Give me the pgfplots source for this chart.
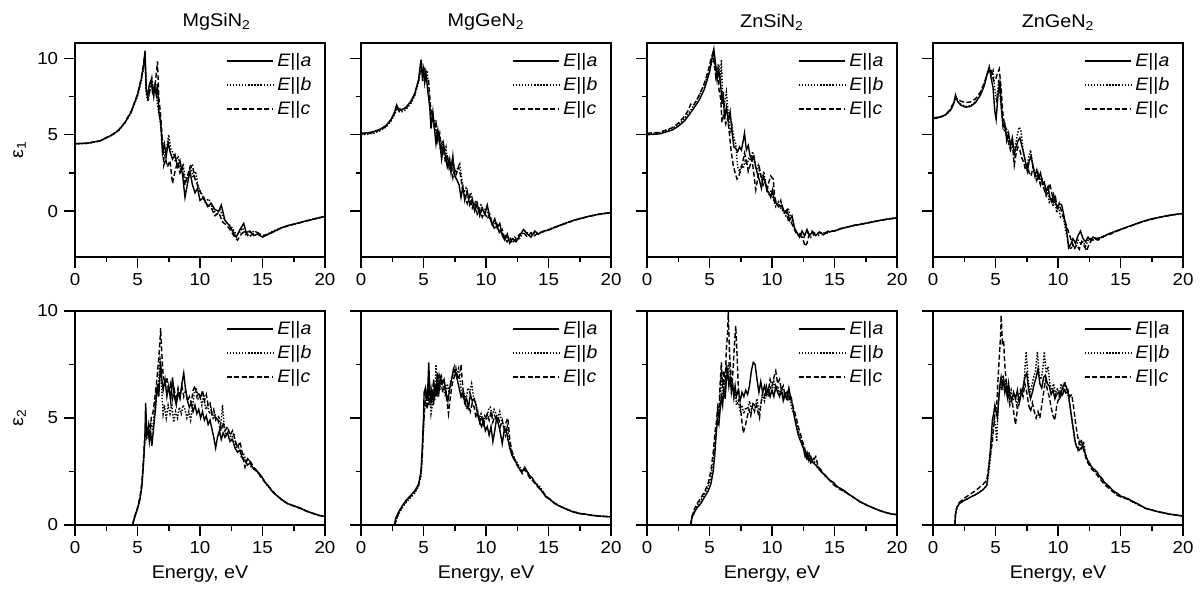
\documentclass[border=0pt]{standalone}
\usepackage{fontspec}
\setmainfont{Liberation Sans}[FakeStretch=1.08]
\usepackage{pgfplots}
\pgfplotsset{compat=1.18}
\usepgfplotslibrary{groupplots}

\pgfplotsset{
  panel/.style={
    scale only axis, width=150pt, height=128.4pt,
    xmin=0, xmax=20, xtick={0,5,10,15,20}, minor x tick num=1,
    tick align=outside, xtick pos=left, ytick pos=left,
    major tick length=6.6pt, minor tick length=3.3pt,
    tick style={black, line width=0.9pt},
    axis line style={line width=1.2pt},
    tick label style={font=\fontsize{10.4}{12}\selectfont},
    /pgf/number format/assume math mode=true,
    label style={font=\fontsize{11}{13}\selectfont},
    title style={font=\fontsize{11}{13}\selectfont, yshift=-2pt},
    legend style={at={(1,1)}, anchor=north east, xshift=-3pt, yshift=-2pt,
      draw=none, fill=none, font=\fontsize{10.8}{12}\selectfont, row sep=1pt},
    legend cell align=left,
    legend image code/.code={\draw[#1] (0pt,0pt) -- (28pt,0pt);},
  },
  top/.style={ymin=-3, ymax=11, ytick={0,5,10}, minor y tick num=1},
  bot/.style={ymin=0, ymax=10, ytick={0,5,10}, minor y tick num=1, xlabel={Energy, eV}},
  la/.style={black, line width=0.85pt},
  lb/.style={black, line width=0.85pt, densely dotted},
  lc/.style={black, line width=0.85pt, dash pattern=on 3pt off 1.5pt},
}
\newcommand{\leg}{\legend{\textit{E}||\textit{a}, \textit{E}||\textit{b}, \textit{E}||\textit{c}}}

\begin{document}
\begin{tikzpicture}
\begin{groupplot}[
  group style={group size=4 by 2, horizontal sep=21.6pt, vertical sep=32.4pt,
    yticklabels at=edge left},
  panel,
]
% ---------- row 1: eps1 ----------
\nextgroupplot[top, title={MgSiN\textsubscript{2}}, title style={xshift=10pt}, ylabel={ε\textsubscript{1}}]
\addplot[la] coordinates {(0,4.42)(1,4.45)(2,4.6)(3,5.0)(3.5,5.3)(4,5.8)(4.5,6.5)(5,7.6)(5.3,8.6)(5.5,9.6)(5.6,10.5)(5.7,8.0)(5.8,7.5)(5.95,8.3)(6.1,8.6)(6.2,7.8)(6.35,8.2)(6.5,7.6)(6.6,8.3)(6.7,6.6)(6.85,5.8)(7.0,3.8)(7.15,4.4)(7.3,3.6)(7.45,4.5)(7.6,3.9)(7.8,3.4)(8.0,3.7)(8.2,2.9)(8.4,3.3)(8.6,2.4)(8.8,0.9)(9.0,1.8)(9.2,2.6)(9.4,1.7)(9.6,1.2)(9.8,1.5)(10.0,0.7)(10.3,0.9)(10.6,0.3)(10.9,0.5)(11.2,0.1)(11.5,0.0)(11.7,0.4)(12.0,-0.6)(12.3,-0.9)(12.6,-1.3)(12.9,-1.7)(13.2,-1.2)(13.5,-0.8)(13.7,-1.4)(14.0,-1.3)(14.3,-1.6)(14.6,-1.5)(15.0,-1.7)(15.5,-1.5)(16,-1.3)(16.5,-1.1)(17,-0.95)(17.5,-0.85)(18,-0.75)(18.5,-0.65)(19,-0.55)(19.5,-0.45)(20,-0.35)};
\addplot[lb] coordinates {(0,4.4)(1,4.43)(2,4.58)(3,4.98)(3.5,5.28)(4,5.78)(4.5,6.45)(5,7.5)(5.3,8.5)(5.5,9.4)(5.6,10.2)(5.7,7.6)(5.85,7.2)(6.0,8.0)(6.15,8.7)(6.3,7.6)(6.45,8.4)(6.6,7.0)(6.75,6.2)(6.9,5.4)(7.05,4.2)(7.2,3.5)(7.35,4.2)(7.5,5.0)(7.65,4.1)(7.85,3.8)(8.05,3.2)(8.25,3.6)(8.45,2.7)(8.65,3.0)(8.85,2.0)(9.05,2.3)(9.25,3.0)(9.45,2.2)(9.65,2.6)(9.85,1.6)(10.1,1.2)(10.4,0.6)(10.7,0.8)(11.0,0.2)(11.3,-0.2)(11.6,0.1)(11.9,-0.5)(12.2,-0.8)(12.5,-1.0)(12.8,-1.4)(13.1,-1.5)(13.4,-1.1)(13.7,-1.6)(14.0,-1.4)(14.4,-1.3)(14.8,-1.6)(15.2,-1.6)(15.6,-1.4)(16,-1.25)(16.5,-1.1)(17,-0.95)(17.5,-0.85)(18,-0.75)(18.5,-0.62)(19,-0.52)(19.5,-0.42)(20,-0.32)};
\addplot[lc] coordinates {(0,4.4)(1,4.44)(2,4.6)(3,5.02)(3.5,5.32)(4,5.82)(4.5,6.55)(5,7.65)(5.3,8.7)(5.5,9.7)(5.6,10.4)(5.7,7.9)(5.85,7.4)(6.0,7.9)(6.15,8.4)(6.3,7.5)(6.45,8.6)(6.6,9.8)(6.7,7.5)(6.85,6.3)(7.0,4.5)(7.1,3.0)(7.25,3.4)(7.4,2.9)(7.6,3.3)(7.8,1.8)(8.0,2.6)(8.2,3.2)(8.4,2.5)(8.6,2.9)(8.8,1.7)(9.0,2.3)(9.2,2.9)(9.4,3.0)(9.6,2.1)(9.8,1.7)(10.0,1.3)(10.3,0.8)(10.6,0.4)(10.9,0.2)(11.2,-0.3)(11.5,-0.1)(11.8,-0.7)(12.1,-0.9)(12.4,-1.2)(12.7,-1.6)(13.0,-1.9)(13.3,-1.5)(13.6,-1.3)(13.9,-1.7)(14.2,-1.5)(14.6,-1.4)(15.0,-1.6)(15.5,-1.5)(16,-1.3)(16.5,-1.1)(17,-0.98)(17.5,-0.86)(18,-0.76)(18.5,-0.64)(19,-0.54)(19.5,-0.44)(20,-0.34)};
\leg

\nextgroupplot[top, title={MgGeN\textsubscript{2}}]
\addplot[la] coordinates {(0,5.1)(0.5,5.12)(1,5.2)(1.5,5.35)(2,5.6)(2.4,6.0)(2.7,6.5)(2.85,6.95)(3.0,6.7)(3.3,6.65)(3.6,6.8)(4.0,7.2)(4.3,7.7)(4.6,8.6)(4.8,9.9)(4.9,8.8)(5.0,9.3)(5.1,8.4)(5.2,9.0)(5.35,7.8)(5.5,6.8)(5.6,5.4)(5.75,6.5)(5.9,5.2)(6.0,4.4)(6.15,5.3)(6.3,4.5)(6.45,3.4)(6.6,4.4)(6.75,3.6)(6.9,2.9)(7.05,3.4)(7.2,2.5)(7.35,3.6)(7.5,2.3)(7.7,2.0)(7.85,1.7)(8.0,0.9)(8.15,1.6)(8.3,0.7)(8.5,1.3)(8.7,0.4)(8.9,0.8)(9.1,0.0)(9.3,0.5)(9.5,-0.3)(9.7,0.2)(9.9,-0.2)(10.1,0.4)(10.3,-0.4)(10.5,-0.9)(10.7,-0.5)(10.9,-1.1)(11.1,-0.8)(11.3,-1.6)(11.5,-1.9)(11.7,-1.5)(11.9,-2.1)(12.1,-1.8)(12.4,-2.0)(12.7,-1.6)(13.0,-1.2)(13.3,-1.5)(13.6,-1.7)(13.9,-1.3)(14.2,-1.5)(14.6,-1.3)(15,-1.25)(15.5,-1.05)(16,-0.9)(16.5,-0.75)(17,-0.6)(17.5,-0.5)(18,-0.38)(18.5,-0.3)(19,-0.2)(19.5,-0.15)(20,-0.1)};
\addplot[lb] coordinates {(0,5.0)(0.5,5.02)(1,5.1)(1.5,5.25)(2,5.5)(2.4,5.9)(2.7,6.35)(2.9,6.75)(3.05,6.5)(3.3,6.5)(3.6,6.65)(4.0,7.05)(4.3,7.55)(4.6,8.4)(4.85,9.6)(4.95,8.5)(5.05,9.0)(5.15,8.9)(5.3,9.2)(5.45,7.5)(5.6,6.2)(5.75,5.8)(5.9,6.0)(6.05,4.8)(6.2,5.0)(6.35,4.0)(6.5,4.6)(6.65,3.8)(6.8,4.2)(6.95,3.0)(7.1,3.4)(7.25,2.7)(7.4,3.1)(7.6,2.4)(7.75,2.9)(7.9,3.1)(8.05,2.2)(8.2,1.2)(8.4,1.5)(8.6,0.8)(8.8,1.2)(9.0,0.3)(9.2,0.7)(9.4,0.0)(9.6,0.4)(9.8,0.0)(10.0,0.2)(10.2,-0.3)(10.4,-0.6)(10.6,-1.0)(10.8,-0.7)(11.0,-1.3)(11.2,-1.2)(11.4,-1.7)(11.6,-1.6)(11.8,-1.9)(12.0,-2.0)(12.3,-1.7)(12.6,-1.9)(12.9,-1.5)(13.2,-1.3)(13.5,-1.6)(13.8,-1.4)(14.1,-1.5)(14.5,-1.35)(15,-1.2)(15.5,-1.05)(16,-0.9)(16.5,-0.75)(17,-0.6)(17.5,-0.48)(18,-0.38)(18.5,-0.28)(19,-0.2)(19.5,-0.14)(20,-0.08)};
\addplot[lc] coordinates {(0,5.05)(0.5,5.07)(1,5.15)(1.5,5.3)(2,5.55)(2.4,5.95)(2.7,6.45)(2.85,6.85)(3.0,6.6)(3.3,6.6)(3.6,6.75)(4.0,7.15)(4.3,7.65)(4.6,8.5)(4.8,9.5)(4.95,9.0)(5.1,9.3)(5.25,8.5)(5.4,8.6)(5.55,7.0)(5.7,6.0)(5.85,5.5)(6.0,5.8)(6.15,4.6)(6.3,5.1)(6.45,3.9)(6.6,4.2)(6.75,3.2)(6.9,3.7)(7.05,2.8)(7.2,3.2)(7.35,2.2)(7.5,2.8)(7.65,2.5)(7.8,2.9)(7.95,2.4)(8.1,1.5)(8.3,1.0)(8.5,0.5)(8.7,1.0)(8.9,0.2)(9.1,0.6)(9.3,-0.2)(9.5,0.1)(9.7,-0.4)(9.9,-0.1)(10.1,-0.5)(10.3,-0.2)(10.5,-0.8)(10.7,-1.2)(10.9,-0.9)(11.1,-1.5)(11.3,-1.2)(11.5,-1.8)(11.7,-2.0)(11.9,-1.7)(12.1,-2.1)(12.4,-1.8)(12.7,-1.5)(13.0,-1.4)(13.3,-1.7)(13.6,-1.4)(13.9,-1.6)(14.2,-1.4)(14.6,-1.35)(15,-1.22)(15.5,-1.07)(16,-0.92)(16.5,-0.77)(17,-0.62)(17.5,-0.5)(18,-0.4)(18.5,-0.3)(19,-0.22)(19.5,-0.16)(20,-0.1)};
\leg

\nextgroupplot[top, title={ZnSiN\textsubscript{2}}]
\addplot[la] coordinates {(0,5.0)(1,5.05)(2,5.3)(2.5,5.55)(3,5.9)(3.5,6.45)(3.8,6.8)(4.2,7.3)(4.6,8.0)(5.0,9.1)(5.2,10.0)(5.35,10.6)(5.5,9.5)(5.6,8.6)(5.75,9.2)(5.9,8.2)(6.0,7.0)(6.1,7.8)(6.2,6.0)(6.35,6.8)(6.5,5.9)(6.65,6.5)(6.8,5.2)(6.95,4.2)(7.1,4.1)(7.25,3.9)(7.4,4.2)(7.55,4.0)(7.7,4.6)(7.8,5.1)(7.95,4.0)(8.1,4.3)(8.25,3.6)(8.4,3.4)(8.55,3.6)(8.7,2.9)(8.85,2.4)(9.0,2.0)(9.15,1.5)(9.3,2.3)(9.45,1.9)(9.6,1.3)(9.75,1.2)(9.9,0.9)(10.05,1.4)(10.2,0.6)(10.4,0.5)(10.6,0.3)(10.8,0.4)(11.0,-0.1)(11.2,0.1)(11.4,-0.6)(11.6,-0.3)(11.8,-1.1)(12.0,-1.4)(12.2,-1.7)(12.4,-1.3)(12.6,-1.6)(12.8,-1.2)(13.0,-1.6)(13.2,-1.4)(13.5,-1.6)(13.8,-1.35)(14.1,-1.55)(14.5,-1.35)(15,-1.3)(15.5,-1.15)(16,-1.05)(16.5,-0.95)(17,-0.88)(17.5,-0.8)(18,-0.72)(18.5,-0.63)(19,-0.56)(19.5,-0.5)(20,-0.45)};
\addplot[lb] coordinates {(0,5.05)(1,5.1)(2,5.4)(2.5,5.65)(3,6.05)(3.5,6.6)(3.8,7.0)(4.2,7.6)(4.6,8.3)(5.0,9.2)(5.2,9.8)(5.35,10.3)(5.45,9.4)(5.6,9.0)(5.75,9.6)(5.85,8.3)(5.95,9.9)(6.05,7.5)(6.2,7.0)(6.35,7.8)(6.5,6.4)(6.65,5.2)(6.8,5.6)(6.95,4.8)(7.1,4.4)(7.25,2.9)(7.4,2.6)(7.55,3.0)(7.7,2.8)(7.85,3.3)(8.0,3.0)(8.15,3.5)(8.3,3.3)(8.45,3.9)(8.6,3.2)(8.75,2.7)(8.9,3.0)(9.05,2.5)(9.2,2.0)(9.35,2.6)(9.5,1.8)(9.65,1.5)(9.8,1.0)(9.95,1.4)(10.1,0.8)(10.3,0.3)(10.5,0.6)(10.7,0.2)(10.9,0.0)(11.1,-0.3)(11.3,0.2)(11.5,-0.5)(11.7,-0.8)(11.9,-1.3)(12.1,-1.6)(12.3,-1.4)(12.5,-1.8)(12.7,-1.5)(12.9,-1.4)(13.1,-1.7)(13.4,-1.5)(13.7,-1.6)(14.0,-1.4)(14.4,-1.45)(14.8,-1.3)(15.2,-1.25)(15.6,-1.1)(16,-1.05)(16.5,-0.95)(17,-0.87)(17.5,-0.78)(18,-0.7)(18.5,-0.62)(19,-0.55)(19.5,-0.48)(20,-0.43)};
\addplot[lc] coordinates {(0,5.1)(1,5.15)(2,5.45)(2.5,5.75)(3,6.2)(3.3,6.6)(3.5,7.0)(3.7,6.9)(4.0,7.3)(4.3,7.8)(4.6,8.4)(4.9,9.2)(5.1,9.9)(5.25,10.3)(5.35,9.8)(5.5,8.8)(5.6,9.3)(5.75,8.0)(5.9,7.3)(6.0,5.8)(6.15,6.4)(6.3,5.7)(6.45,6.1)(6.6,5.0)(6.75,3.8)(6.9,3.0)(7.05,2.5)(7.2,2.1)(7.35,2.3)(7.5,2.7)(7.65,3.2)(7.8,3.8)(7.95,3.3)(8.1,2.6)(8.25,3.0)(8.4,3.4)(8.55,2.4)(8.7,1.4)(8.85,2.1)(9.0,2.8)(9.15,2.2)(9.3,1.7)(9.45,1.9)(9.6,1.4)(9.75,1.9)(9.9,2.3)(10.1,2.1)(10.2,1.0)(10.35,0.5)(10.5,0.3)(10.7,0.7)(10.9,-0.1)(11.1,0.0)(11.3,-0.6)(11.5,-0.7)(11.7,-1.0)(11.9,-1.4)(12.1,-1.5)(12.3,-1.6)(12.5,-1.9)(12.65,-2.3)(12.8,-2.1)(12.95,-1.6)(13.2,-1.3)(13.5,-1.5)(13.8,-1.4)(14.1,-1.5)(14.5,-1.3)(15,-1.3)(15.5,-1.15)(16,-1.05)(16.5,-0.93)(17,-0.86)(17.5,-0.79)(18,-0.71)(18.5,-0.62)(19,-0.55)(19.5,-0.49)(20,-0.44)};
\leg

\nextgroupplot[top, title={ZnGeN\textsubscript{2}}]
\addplot[la] coordinates {(0,6.1)(0.5,6.15)(1.0,6.3)(1.4,6.6)(1.65,7.0)(1.8,7.6)(1.95,7.2)(2.2,6.95)(2.6,6.8)(3.0,6.85)(3.4,7.1)(3.8,7.6)(4.1,8.2)(4.35,9.0)(4.5,9.45)(4.65,8.7)(4.8,8.1)(4.95,6.5)(5.05,6.0)(5.2,7.6)(5.35,8.4)(5.45,7.0)(5.6,5.5)(5.75,5.7)(5.9,4.6)(6.05,5.1)(6.2,4.3)(6.35,4.8)(6.5,3.7)(6.65,4.2)(6.8,4.6)(6.95,4.8)(7.1,4.3)(7.25,3.8)(7.4,3.2)(7.55,2.6)(7.7,3.3)(7.85,3.6)(8.0,2.9)(8.15,2.3)(8.3,2.7)(8.45,2.2)(8.6,2.5)(8.75,1.8)(8.9,1.9)(9.05,1.3)(9.2,1.6)(9.35,0.9)(9.5,0.6)(9.65,1.1)(9.8,0.6)(9.95,0.2)(10.1,0.5)(10.3,0.4)(10.5,-0.4)(10.7,-1.3)(10.85,-2.4)(11.0,-2.2)(11.2,-1.8)(11.4,-2.1)(11.6,-1.6)(11.8,-1.3)(12.0,-1.8)(12.2,-2.0)(12.4,-1.7)(12.6,-1.9)(12.8,-1.7)(13.0,-1.8)(13.3,-1.75)(13.6,-1.7)(14,-1.5)(14.5,-1.35)(15,-1.2)(15.5,-1.05)(16,-0.9)(16.5,-0.75)(17,-0.62)(17.5,-0.5)(18,-0.42)(18.5,-0.33)(19,-0.26)(19.5,-0.2)(20,-0.15)};
\addplot[lb] coordinates {(0,6.1)(0.5,6.15)(1.0,6.3)(1.4,6.6)(1.65,7.0)(1.8,7.5)(1.95,7.2)(2.2,7.0)(2.6,6.85)(3.0,6.9)(3.4,7.15)(3.8,7.65)(4.1,8.3)(4.35,9.1)(4.5,9.3)(4.65,8.9)(4.8,9.2)(4.95,8.0)(5.1,7.1)(5.25,8.6)(5.4,7.3)(5.55,6.0)(5.7,5.2)(5.85,5.5)(6.0,4.8)(6.15,4.1)(6.3,4.5)(6.45,3.9)(6.6,4.3)(6.75,5.0)(6.9,5.5)(7.05,5.2)(7.2,4.0)(7.35,3.4)(7.5,2.8)(7.65,3.5)(7.8,4.0)(7.95,3.2)(8.1,2.6)(8.25,2.1)(8.4,2.5)(8.55,1.9)(8.7,2.2)(8.85,1.5)(9.0,1.2)(9.15,1.5)(9.3,0.6)(9.45,0.9)(9.6,0.3)(9.75,0.7)(9.9,-0.1)(10.05,0.3)(10.2,-0.4)(10.4,-0.3)(10.6,-1.2)(10.8,-2.0)(11.0,-2.5)(11.2,-2.2)(11.4,-2.4)(11.6,-1.9)(11.8,-2.1)(12.0,-2.0)(12.2,-2.3)(12.4,-1.9)(12.6,-1.8)(12.8,-1.9)(13.0,-1.75)(13.3,-1.8)(13.6,-1.65)(14,-1.5)(14.5,-1.35)(15,-1.2)(15.5,-1.05)(16,-0.9)(16.5,-0.76)(17,-0.63)(17.5,-0.52)(18,-0.43)(18.5,-0.34)(19,-0.27)(19.5,-0.21)(20,-0.15)};
\addplot[lc] coordinates {(0,6.05)(0.5,6.1)(1.0,6.3)(1.4,6.7)(1.65,7.1)(1.8,7.4)(1.95,7.35)(2.2,7.2)(2.6,7.1)(3.0,7.15)(3.4,7.35)(3.8,7.8)(4.1,8.4)(4.35,9.0)(4.5,9.2)(4.65,9.3)(4.85,8.5)(5.0,8.6)(5.15,9.0)(5.3,9.3)(5.45,8.0)(5.6,6.3)(5.75,5.5)(5.9,4.9)(6.05,4.5)(6.2,4.0)(6.35,4.4)(6.5,3.0)(6.65,3.8)(6.8,4.2)(6.95,4.0)(7.1,3.5)(7.25,3.2)(7.4,2.7)(7.55,3.0)(7.7,2.5)(7.85,2.3)(8.0,2.9)(8.15,2.5)(8.3,2.0)(8.45,2.4)(8.6,1.7)(8.75,2.0)(8.9,1.4)(9.05,1.0)(9.2,1.3)(9.35,1.8)(9.5,1.2)(9.65,0.6)(9.8,0.9)(9.95,0.1)(10.1,0.5)(10.3,-0.1)(10.5,-0.5)(10.7,-1.0)(10.9,-1.5)(11.1,-2.0)(11.3,-2.5)(11.5,-2.2)(11.7,-2.5)(11.9,-2.0)(12.1,-2.3)(12.3,-2.6)(12.5,-2.1)(12.7,-1.9)(12.9,-1.8)(13.2,-1.9)(13.5,-1.7)(13.8,-1.6)(14.2,-1.5)(14.6,-1.35)(15,-1.22)(15.5,-1.06)(16,-0.92)(16.5,-0.77)(17,-0.64)(17.5,-0.53)(18,-0.43)(18.5,-0.35)(19,-0.27)(19.5,-0.21)(20,-0.16)};
\leg

% ---------- row 2: eps2 ----------
\nextgroupplot[bot, ylabel={ε\textsubscript{2}}]
\addplot[la] coordinates {(4.6,0)(4.8,0.4)(5.0,0.75)(5.2,1.2)(5.35,1.8)(5.45,2.6)(5.55,3.6)(5.6,4.3)(5.65,5.7)(5.75,4.2)(5.85,4.5)(5.95,3.9)(6.05,4.4)(6.15,3.7)(6.3,4.6)(6.45,5.5)(6.6,6.6)(6.7,6.0)(6.85,7.6)(6.95,6.8)(7.05,6.3)(7.2,6.8)(7.35,6.0)(7.5,6.5)(7.65,5.8)(7.8,6.9)(7.95,6.0)(8.1,5.6)(8.25,6.2)(8.4,5.9)(8.55,6.6)(8.7,7.1)(8.85,6.3)(9.0,5.8)(9.15,5.5)(9.3,5.7)(9.45,5.3)(9.6,5.6)(9.75,5.2)(9.9,5.4)(10.05,5.0)(10.2,5.3)(10.35,4.9)(10.5,5.1)(10.65,4.7)(10.8,4.9)(10.95,4.5)(11.1,4.1)(11.25,3.6)(11.4,4.1)(11.55,4.4)(11.7,4.0)(11.85,4.3)(12.0,4.1)(12.2,4.3)(12.4,3.9)(12.6,4.0)(12.8,3.6)(13.0,3.4)(13.2,3.5)(13.4,3.1)(13.6,3.0)(13.8,2.8)(14.0,2.9)(14.3,2.6)(14.6,2.5)(14.9,2.3)(15.2,2.0)(15.5,1.8)(15.8,1.55)(16.1,1.4)(16.5,1.2)(17,1.0)(17.5,0.9)(18,0.8)(18.5,0.65)(19,0.55)(19.5,0.45)(20,0.4)};
\addplot[lb] coordinates {(4.6,0)(4.8,0.45)(5.0,0.8)(5.2,1.25)(5.35,1.9)(5.45,2.7)(5.55,3.7)(5.65,4.4)(5.75,4.0)(5.85,4.6)(5.95,4.2)(6.05,4.8)(6.2,4.4)(6.35,5.3)(6.5,6.4)(6.65,6.1)(6.8,7.9)(6.95,6.2)(7.05,5.2)(7.15,5.6)(7.3,5.0)(7.45,5.6)(7.6,5.2)(7.75,5.6)(7.9,4.8)(8.05,5.3)(8.2,5.0)(8.35,5.5)(8.5,5.2)(8.65,5.6)(8.8,5.4)(8.95,5.0)(9.1,5.3)(9.25,4.9)(9.4,5.5)(9.55,6.2)(9.7,6.4)(9.85,5.9)(10.0,6.0)(10.15,5.6)(10.3,6.1)(10.45,5.4)(10.6,5.6)(10.75,5.2)(10.9,5.4)(11.05,5.0)(11.2,5.2)(11.35,4.9)(11.5,5.1)(11.65,4.6)(11.8,5.6)(11.95,4.5)(12.1,4.2)(12.3,4.4)(12.5,4.0)(12.7,4.3)(12.9,3.6)(13.1,3.6)(13.3,3.2)(13.5,3.3)(13.7,3.0)(13.9,3.1)(14.1,2.7)(14.4,2.6)(14.7,2.4)(15.0,2.2)(15.3,1.9)(15.6,1.7)(15.9,1.5)(16.2,1.35)(16.6,1.15)(17,1.0)(17.5,0.9)(18,0.78)(18.5,0.66)(19,0.55)(19.5,0.46)(20,0.4)};
\addplot[lc] coordinates {(4.6,0)(4.8,0.45)(5.0,0.8)(5.2,1.3)(5.35,2.0)(5.45,2.8)(5.55,3.8)(5.65,4.5)(5.8,4.2)(5.9,4.7)(6.0,4.3)(6.1,5.0)(6.25,5.3)(6.4,6.0)(6.55,6.8)(6.7,7.8)(6.8,8.6)(6.85,9.2)(6.95,8.0)(7.05,7.0)(7.2,6.6)(7.35,6.9)(7.5,6.2)(7.65,6.6)(7.8,5.9)(7.95,6.3)(8.1,5.8)(8.25,6.4)(8.4,6.0)(8.55,6.5)(8.7,6.0)(8.85,6.3)(9.0,5.8)(9.15,6.0)(9.3,5.7)(9.45,6.3)(9.6,6.5)(9.75,6.0)(9.9,6.2)(10.05,5.9)(10.2,6.3)(10.35,5.8)(10.5,6.1)(10.65,5.6)(10.8,5.7)(10.95,5.2)(11.1,5.4)(11.25,4.9)(11.4,5.0)(11.55,4.6)(11.7,4.4)(11.85,4.8)(12.0,4.4)(12.2,4.6)(12.4,4.2)(12.6,4.4)(12.8,4.0)(13.0,3.6)(13.2,3.9)(13.4,3.3)(13.6,2.7)(13.8,3.1)(14.0,3.0)(14.3,2.7)(14.6,2.5)(14.9,2.2)(15.2,2.0)(15.5,1.8)(15.8,1.6)(16.1,1.4)(16.5,1.2)(17,1.0)(17.5,0.88)(18,0.78)(18.5,0.65)(19,0.55)(19.5,0.45)(20,0.4)};
\leg

\nextgroupplot[bot]
\addplot[la] coordinates {(2.65,0)(2.8,0.35)(3.0,0.6)(3.3,0.9)(3.6,1.15)(4.0,1.4)(4.3,1.6)(4.6,1.9)(4.8,2.5)(4.9,3.6)(5.0,5.0)(5.05,6.2)(5.15,6.4)(5.25,5.8)(5.35,6.5)(5.42,7.6)(5.5,6.2)(5.6,5.7)(5.7,6.3)(5.8,5.6)(5.9,6.4)(6.0,6.0)(6.1,7.1)(6.2,6.0)(6.35,6.9)(6.5,6.6)(6.65,6.8)(6.8,6.2)(6.95,5.8)(7.1,6.4)(7.25,6.8)(7.4,7.3)(7.55,7.1)(7.7,6.8)(7.85,6.4)(8.0,6.0)(8.15,6.2)(8.3,5.7)(8.45,5.9)(8.6,5.5)(8.75,6.1)(8.9,5.8)(9.05,5.9)(9.2,5.6)(9.35,5.1)(9.5,4.8)(9.65,4.6)(9.8,4.9)(9.95,4.4)(10.1,4.6)(10.25,4.2)(10.4,4.6)(10.55,3.9)(10.7,4.4)(10.85,5.0)(11.0,4.7)(11.15,4.3)(11.3,3.8)(11.45,4.4)(11.6,4.5)(11.75,4.0)(11.9,3.6)(12.05,3.3)(12.2,3.1)(12.35,3.0)(12.5,2.8)(12.7,2.6)(12.9,2.5)(13.1,2.7)(13.3,2.5)(13.5,2.3)(13.7,2.2)(13.9,2.0)(14.1,1.85)(14.3,1.7)(14.5,1.55)(14.8,1.3)(15.1,1.2)(15.5,1.0)(16,0.85)(16.5,0.72)(17,0.6)(17.5,0.53)(18,0.5)(18.5,0.45)(19,0.42)(19.5,0.4)(20,0.38)};
\addplot[lb] coordinates {(2.7,0)(2.85,0.3)(3.0,0.5)(3.3,0.8)(3.6,1.05)(4.0,1.3)(4.3,1.5)(4.6,1.8)(4.8,2.3)(4.9,3.2)(5.0,4.5)(5.1,5.8)(5.2,5.5)(5.3,6.2)(5.4,5.6)(5.5,6.0)(5.6,5.2)(5.7,5.6)(5.8,6.4)(5.9,5.8)(6.0,7.5)(6.1,6.5)(6.2,7.0)(6.3,6.3)(6.45,6.9)(6.6,6.4)(6.75,6.0)(6.9,6.6)(7.05,6.2)(7.2,6.8)(7.35,7.0)(7.5,7.4)(7.65,7.0)(7.8,7.3)(7.95,6.6)(8.1,6.0)(8.25,6.2)(8.4,5.8)(8.55,6.4)(8.7,6.2)(8.85,6.6)(9.0,6.0)(9.15,5.8)(9.3,5.3)(9.45,5.0)(9.6,5.2)(9.75,4.8)(9.9,5.1)(10.05,4.9)(10.2,5.4)(10.35,5.5)(10.5,5.1)(10.65,5.4)(10.8,5.2)(10.95,5.0)(11.1,5.3)(11.25,4.8)(11.4,4.6)(11.55,4.2)(11.7,4.6)(11.85,4.0)(12.0,3.5)(12.15,3.3)(12.3,3.1)(12.5,2.9)(12.7,2.7)(12.9,2.5)(13.1,2.6)(13.3,2.5)(13.5,2.2)(13.7,2.1)(13.9,2.0)(14.1,1.9)(14.3,1.8)(14.5,1.6)(14.8,1.35)(15.1,1.2)(15.5,1.0)(16,0.85)(16.5,0.72)(17,0.62)(17.5,0.55)(18,0.5)(18.5,0.45)(19,0.42)(19.5,0.4)(20,0.38)};
\addplot[lc] coordinates {(2.7,0)(2.85,0.3)(3.0,0.55)(3.3,0.85)(3.6,1.1)(4.0,1.35)(4.3,1.55)(4.6,1.85)(4.8,2.4)(4.9,3.3)(5.0,4.6)(5.1,5.6)(5.2,6.0)(5.3,5.4)(5.4,6.2)(5.5,5.8)(5.6,6.4)(5.7,5.9)(5.8,6.8)(5.9,6.2)(6.0,6.6)(6.1,6.2)(6.25,7.0)(6.4,6.6)(6.55,6.2)(6.7,6.5)(6.85,5.9)(7.0,5.2)(7.15,6.0)(7.3,6.6)(7.45,6.9)(7.6,7.3)(7.75,6.8)(7.9,7.0)(8.0,7.5)(8.15,6.4)(8.3,5.9)(8.45,5.4)(8.6,5.6)(8.75,5.3)(8.9,5.7)(9.05,5.5)(9.2,5.0)(9.35,5.3)(9.5,4.8)(9.65,5.1)(9.8,4.7)(9.95,5.0)(10.1,5.2)(10.25,4.9)(10.4,5.3)(10.55,4.8)(10.7,5.1)(10.85,4.9)(11.0,5.0)(11.15,4.6)(11.3,4.9)(11.45,4.5)(11.6,4.8)(11.75,5.0)(11.9,4.0)(12.05,3.5)(12.2,3.2)(12.35,2.9)(12.5,2.8)(12.7,2.6)(12.9,2.4)(13.1,2.6)(13.3,2.4)(13.5,2.2)(13.7,2.1)(13.9,1.95)(14.1,1.8)(14.3,1.7)(14.5,1.6)(14.8,1.35)(15.1,1.22)(15.5,1.02)(16,0.86)(16.5,0.73)(17,0.62)(17.5,0.54)(18,0.5)(18.5,0.45)(19,0.42)(19.5,0.4)(20,0.38)};
\leg

\nextgroupplot[bot]
\addplot[la] coordinates {(3.5,0)(3.6,0.35)(3.8,0.6)(4.0,0.8)(4.3,1.0)(4.6,1.3)(4.9,1.6)(5.1,1.9)(5.3,2.5)(5.45,3.5)(5.55,4.4)(5.65,4.9)(5.75,4.7)(5.85,5.4)(5.95,6.0)(6.05,5.6)(6.15,6.4)(6.25,5.9)(6.35,6.8)(6.45,7.2)(6.55,6.5)(6.65,6.9)(6.75,6.3)(6.85,6.6)(6.95,6.0)(7.05,6.5)(7.15,6.0)(7.3,6.3)(7.45,5.8)(7.6,6.2)(7.75,6.0)(7.9,6.3)(8.05,6.1)(8.2,6.5)(8.35,7.2)(8.5,7.6)(8.65,7.5)(8.8,6.8)(8.95,6.2)(9.1,6.7)(9.25,6.2)(9.4,6.5)(9.55,6.1)(9.7,6.4)(9.85,6.0)(10.0,6.3)(10.15,6.0)(10.3,6.5)(10.45,6.2)(10.6,6.0)(10.75,6.3)(10.9,5.8)(11.05,6.1)(11.2,5.9)(11.35,6.4)(11.5,5.9)(11.65,5.6)(11.8,5.0)(11.95,4.6)(12.1,4.2)(12.3,3.9)(12.5,3.6)(12.65,3.2)(12.8,3.4)(12.95,3.0)(13.1,3.2)(13.3,2.9)(13.5,2.8)(13.7,2.7)(13.9,2.5)(14.1,2.4)(14.3,2.3)(14.6,2.1)(14.9,2.0)(15.2,1.8)(15.5,1.7)(15.8,1.6)(16.1,1.45)(16.5,1.3)(17,1.1)(17.5,0.95)(18,0.82)(18.5,0.7)(19,0.6)(19.5,0.52)(20,0.48)};
\addplot[lb] coordinates {(3.5,0)(3.6,0.4)(3.8,0.7)(4.0,0.9)(4.3,1.15)(4.6,1.45)(4.9,1.8)(5.1,2.2)(5.3,3.0)(5.45,4.0)(5.55,4.6)(5.65,5.3)(5.75,5.0)(5.85,6.2)(5.95,7.2)(6.05,6.0)(6.15,6.8)(6.25,6.2)(6.35,7.5)(6.45,6.8)(6.55,7.6)(6.65,7.0)(6.75,6.2)(6.85,6.6)(6.95,6.0)(7.05,6.4)(7.15,5.6)(7.3,5.8)(7.45,5.3)(7.6,5.6)(7.75,5.2)(7.9,5.5)(8.05,5.4)(8.2,5.8)(8.35,5.4)(8.5,5.7)(8.65,5.5)(8.8,5.9)(8.95,5.2)(9.1,5.6)(9.25,6.1)(9.4,5.8)(9.55,6.3)(9.7,6.0)(9.85,6.5)(10.0,6.2)(10.15,6.7)(10.3,6.3)(10.45,6.5)(10.6,6.1)(10.75,6.4)(10.9,6.0)(11.05,6.2)(11.2,5.8)(11.35,6.0)(11.5,5.7)(11.65,5.3)(11.8,5.1)(11.95,4.8)(12.1,4.4)(12.3,4.1)(12.5,3.7)(12.65,3.4)(12.8,3.1)(12.95,3.3)(13.1,3.0)(13.3,3.1)(13.5,2.8)(13.7,2.6)(13.9,2.55)(14.1,2.4)(14.3,2.25)(14.6,2.1)(14.9,1.95)(15.2,1.8)(15.5,1.7)(15.8,1.55)(16.1,1.45)(16.5,1.3)(17,1.1)(17.5,0.95)(18,0.82)(18.5,0.7)(19,0.6)(19.5,0.52)(20,0.48)};
\addplot[lc] coordinates {(3.5,0)(3.6,0.4)(3.8,0.75)(4.0,1.0)(4.3,1.25)(4.6,1.55)(4.9,1.95)(5.1,2.5)(5.3,3.4)(5.45,4.4)(5.55,4.8)(5.65,5.5)(5.75,5.2)(5.85,6.6)(5.95,7.6)(6.05,6.4)(6.15,7.2)(6.25,6.6)(6.35,8.2)(6.45,9.0)(6.5,10.0)(6.6,8.0)(6.7,7.2)(6.8,6.6)(6.9,7.4)(7.0,8.5)(7.1,9.3)(7.2,8.0)(7.3,6.5)(7.45,5.6)(7.6,4.8)(7.7,4.3)(7.85,4.6)(8.0,5.0)(8.15,5.4)(8.3,5.1)(8.45,5.6)(8.6,5.3)(8.75,5.6)(8.9,5.2)(9.0,5.0)(9.1,5.6)(9.25,6.2)(9.4,6.0)(9.55,6.5)(9.7,6.2)(9.85,6.8)(10.0,6.5)(10.15,6.9)(10.3,7.2)(10.45,6.6)(10.6,6.8)(10.75,6.3)(10.9,6.5)(11.05,6.0)(11.2,6.3)(11.35,5.9)(11.5,6.1)(11.65,5.6)(11.8,5.3)(11.95,5.0)(12.1,4.6)(12.3,4.2)(12.5,3.8)(12.65,3.5)(12.8,3.0)(12.95,3.4)(13.1,2.9)(13.3,3.0)(13.5,3.2)(13.7,2.7)(13.9,2.6)(14.1,2.4)(14.3,2.3)(14.6,2.1)(14.9,1.9)(15.2,1.75)(15.5,1.65)(15.8,1.55)(16.1,1.45)(16.5,1.3)(17,1.1)(17.5,0.95)(18,0.82)(18.5,0.7)(19,0.6)(19.5,0.52)(20,0.48)};
\leg

\nextgroupplot[bot]
\addplot[la] coordinates {(1.75,0)(1.8,0.5)(1.9,0.8)(2.1,1.0)(2.5,1.15)(3.0,1.3)(3.5,1.45)(4.0,1.65)(4.3,1.85)(4.45,2.6)(4.6,3.6)(4.75,4.9)(4.85,5.2)(4.95,5.6)(5.05,5.3)(5.15,5.0)(5.25,5.8)(5.35,6.5)(5.45,6.9)(5.55,6.5)(5.65,6.8)(5.75,6.2)(5.85,6.5)(5.95,6.0)(6.05,6.6)(6.15,6.1)(6.3,5.8)(6.45,6.2)(6.6,5.9)(6.75,6.3)(6.9,5.7)(7.05,6.1)(7.2,6.4)(7.35,6.9)(7.5,7.1)(7.65,6.3)(7.8,5.9)(7.95,6.2)(8.1,6.6)(8.25,6.9)(8.4,7.3)(8.55,6.6)(8.7,6.4)(8.85,6.9)(9.0,7.0)(9.15,6.6)(9.3,6.5)(9.45,6.1)(9.6,6.3)(9.75,5.9)(9.9,6.1)(10.05,6.2)(10.2,6.0)(10.35,6.4)(10.5,6.6)(10.65,6.5)(10.8,6.2)(10.95,5.6)(11.1,5.0)(11.25,4.4)(11.4,3.8)(11.55,3.6)(11.7,3.5)(11.85,3.6)(12.0,3.7)(12.15,3.4)(12.3,3.1)(12.5,2.9)(12.7,2.7)(12.9,2.6)(13.1,2.5)(13.3,2.3)(13.5,2.2)(13.7,2.0)(13.9,1.9)(14.1,1.8)(14.4,1.6)(14.7,1.5)(15.0,1.35)(15.3,1.3)(15.6,1.22)(16.0,1.1)(16.5,0.95)(17,0.78)(17.5,0.7)(18,0.62)(18.5,0.56)(19,0.5)(19.5,0.46)(20,0.42)};
\addplot[lb] coordinates {(1.75,0)(1.8,0.5)(1.9,0.8)(2.1,1.0)(2.5,1.15)(3.0,1.3)(3.5,1.45)(4.0,1.65)(4.3,1.85)(4.45,2.4)(4.6,3.2)(4.75,4.2)(4.9,5.0)(5.0,4.6)(5.1,3.9)(5.2,5.4)(5.3,6.2)(5.4,6.7)(5.5,6.3)(5.6,7.0)(5.7,6.4)(5.8,6.8)(5.9,6.2)(6.0,6.5)(6.1,5.9)(6.25,6.3)(6.4,5.8)(6.55,6.1)(6.7,5.6)(6.85,6.0)(7.0,6.3)(7.15,6.1)(7.3,6.8)(7.45,8.1)(7.6,6.9)(7.75,6.2)(7.9,6.5)(8.05,6.9)(8.2,7.2)(8.35,8.1)(8.5,7.0)(8.65,6.8)(8.8,7.4)(8.9,8.1)(9.05,7.1)(9.2,7.4)(9.35,6.6)(9.5,6.3)(9.65,6.6)(9.8,6.1)(9.95,6.4)(10.1,6.0)(10.25,6.6)(10.4,6.3)(10.55,6.7)(10.7,6.2)(10.85,6.0)(11.0,5.4)(11.15,4.7)(11.3,4.1)(11.45,3.7)(11.6,3.5)(11.75,3.9)(11.9,3.6)(12.05,3.9)(12.2,3.3)(12.4,3.0)(12.6,2.8)(12.8,2.6)(13.0,2.5)(13.2,2.4)(13.4,2.2)(13.6,2.05)(13.8,1.95)(14.0,1.8)(14.3,1.65)(14.6,1.5)(14.9,1.4)(15.2,1.3)(15.5,1.25)(15.9,1.1)(16.4,0.95)(17,0.78)(17.5,0.7)(18,0.62)(18.5,0.56)(19,0.5)(19.5,0.46)(20,0.42)};
\addplot[lc] coordinates {(1.75,0)(1.8,0.5)(1.9,0.8)(2.1,1.05)(2.5,1.25)(3.0,1.45)(3.5,1.65)(4.0,1.9)(4.3,2.1)(4.45,2.7)(4.6,3.3)(4.75,3.9)(4.85,4.6)(4.95,5.2)(5.1,5.6)(5.2,6.8)(5.3,7.8)(5.4,8.8)(5.45,9.8)(5.55,8.5)(5.65,8.6)(5.75,7.4)(5.85,6.8)(5.95,6.3)(6.05,6.0)(6.15,5.6)(6.3,5.9)(6.45,5.3)(6.6,4.7)(6.75,5.4)(6.9,5.9)(7.05,6.3)(7.2,6.0)(7.35,6.6)(7.5,6.2)(7.65,5.6)(7.8,5.3)(7.95,5.7)(8.1,5.3)(8.25,5.0)(8.4,5.3)(8.55,5.0)(8.7,5.6)(8.85,6.2)(9.0,6.8)(9.15,6.3)(9.3,6.0)(9.45,5.5)(9.6,5.1)(9.75,4.9)(9.9,5.6)(10.05,5.9)(10.2,6.3)(10.35,6.0)(10.5,6.4)(10.65,6.1)(10.8,6.3)(10.95,6.0)(11.1,6.1)(11.25,5.5)(11.4,4.8)(11.55,4.2)(11.7,3.8)(11.85,4.0)(12.0,3.6)(12.15,3.3)(12.3,3.0)(12.5,2.8)(12.7,2.6)(12.9,2.5)(13.1,2.35)(13.3,2.2)(13.5,2.05)(13.7,1.9)(13.9,1.8)(14.1,1.7)(14.4,1.55)(14.7,1.4)(15.0,1.32)(15.3,1.25)(15.6,1.2)(16.0,1.08)(16.5,0.93)(17,0.78)(17.5,0.7)(18,0.62)(18.5,0.56)(19,0.5)(19.5,0.46)(20,0.42)};
\leg
\end{groupplot}
\pgfresetboundingbox
\path[use as bounding box] ([xshift=-45pt,yshift=-43.2pt]group c1r2.south west) rectangle ([xshift=675.6pt,yshift=315pt]group c1r2.south west);
\end{tikzpicture}
\end{document}
